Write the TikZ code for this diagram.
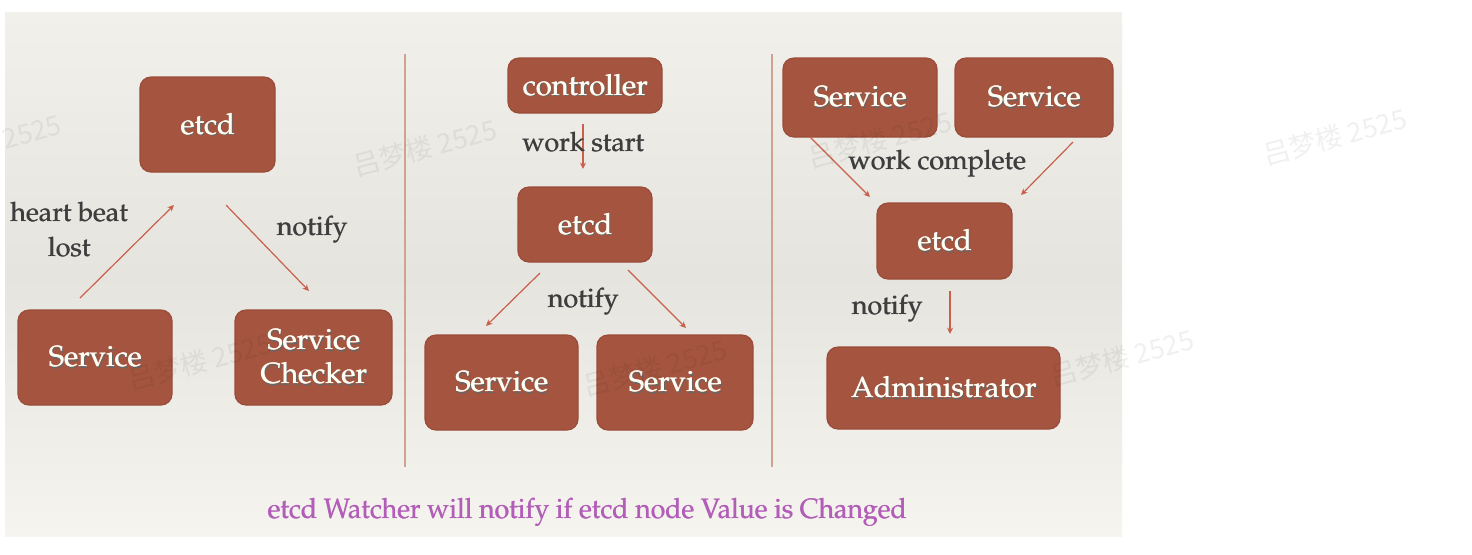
\documentclass[tikz,border=0pt]{standalone}
\usepackage{fontspec}
\usetikzlibrary{arrows.meta}
\newfontfamily\cjk{Noto Sans CJK SC}
\newcommand\pala{\fontencoding{OT1}\fontfamily{ppl}\selectfont}
\newcommand\shd[1]{\leavevmode\rlap{\kern0.8pt\raisebox{-0.8pt}{\textcolor{black!60}{#1}}}\rlap{\kern0.3pt #1}#1}
\newcommand\thk[1]{\leavevmode\rlap{\kern0.3pt #1}#1}
\definecolor{boxfill}{HTML}{A5553F}
\definecolor{boxedge}{HTML}{9A4C38}
\definecolor{arrowc}{HTML}{C9604C}
\definecolor{divc}{HTML}{CFA293}
\definecolor{labelc}{HTML}{3E3E3E}
\definecolor{notec}{HTML}{B25EB8}
\definecolor{bgtop}{HTML}{F2F0EB}
\definecolor{bgmid}{HTML}{E6E4DF}
\definecolor{bgbot}{HTML}{F6F4EF}
\tikzset{
  box/.style={draw=boxedge, line width=0.6pt, fill=boxfill, rounded corners=5.5pt,
    text=white!96!yellow, font=\pala\fontsize{14.6}{18}\selectfont, align=center,
    inner sep=0pt},
  lbl/.style={text=labelc, font=\pala\fontsize{13.4}{17.5}\selectfont, align=center, inner sep=0pt},
  arr/.style={draw=arrowc, line width=0.6pt, -{Stealth[length=3.2pt,width=3pt]}},
  divider/.style={draw=divc, line width=0.8pt},
  wm/.style={text=black, opacity=0.06, font=\cjk\fontsize{13.5}{16}\selectfont, rotate=15, inner sep=0pt},
}
\begin{document}
\begin{tikzpicture}[x=0.5pt,y=-0.5pt]
\useasboundingbox (0,0) rectangle (1472,554);
\fill[white] (0,0) rectangle (1472,554);
\shade[top color=bgtop, bottom color=bgbot, middle color=bgmid] (5,12) rectangle (1122,536);

% dividers
\coordinate (d1t) at (405,54); \coordinate (d1b) at (405,467);
\coordinate (d2t) at (772,54); \coordinate (d2b) at (772,467);
\draw[divider] (d1t) -- (d1b);
\draw[divider] (d2t) -- (d2b);

% panel 1
\node[box, minimum width=67.5pt, minimum height=47.5pt] (e1) at (207.5,124.5) {\shd{etcd}};
\node[box, minimum width=77pt, minimum height=47.5pt] (s1) at (95,357.5) {\shd{Service}};
\node[box, minimum width=78.5pt, minimum height=47.5pt] (sc) at (313.5,357.5) {\shd{Service}\\[-1pt]\shd{Checker}};
\coordinate (hbs) at (80,298); \coordinate (hbe) at (174,205);
\coordinate (n1s) at (226,205); \coordinate (n1e) at (309,291);
\draw[arr] (hbs) -- (hbe);
\draw[arr] (n1s) -- (n1e);
\node[lbl] (hbl) at (69,229) {\thk{heart beat}\\\thk{lost}};
\node[lbl] (n1l) at (312,230) {\thk{notify}};

% panel 2
\node[box, minimum width=77pt, minimum height=27.5pt] (ctl) at (585,85.5) {\shd{controller}};
\node[box, minimum width=67pt, minimum height=37.5pt] (e2) at (585,224.5) {\shd{etcd}};
\node[box, minimum width=76.5pt, minimum height=47.5pt] (s2) at (501.5,382.5) {\shd{Service}};
\node[box, minimum width=78pt, minimum height=47.5pt] (s3) at (675,382.5) {\shd{Service}};
\coordinate (wss) at (583,124); \coordinate (wse) at (583,169);
\coordinate (n2ls) at (540,273); \coordinate (n2le) at (486,326);
\coordinate (n2rs) at (628,270); \coordinate (n2re) at (686,328);
\draw[arr] (wss) -- (wse);
\draw[arr] (n2ls) -- (n2le);
\draw[arr] (n2rs) -- (n2re);
\node[lbl] (wsl) at (583,142) {\thk{work start}};
\node[lbl] (n2l) at (583,302) {\thk{notify}};

% panel 3
\node[box, minimum width=77pt, minimum height=39.5pt] (s4) at (860,97.5) {\shd{Service}};
\node[box, minimum width=79pt, minimum height=39.5pt] (s5) at (1034,97.5) {\shd{Service}};
\node[box, minimum width=67.5pt, minimum height=38pt] (e3) at (944.5,241) {\shd{etcd}};
\node[box, minimum width=116.5pt, minimum height=41pt] (adm) at (943.5,388) {\shd{Administrator}};
\coordinate (wcls) at (810,137); \coordinate (wcle) at (870,197);
\coordinate (wcrs) at (1073,142); \coordinate (wcre) at (1021,195);
\coordinate (n3s) at (950,291); \coordinate (n3e) at (950,334);
\draw[arr] (wcls) -- (wcle);
\draw[arr] (wcrs) -- (wcre);
\draw[arr] (n3s) -- (n3e);
\node[lbl] (wcl) at (937,164) {\thk{work complete}};
\node[lbl] (n3l) at (887,309) {\thk{notify}};

% caption
\node[text=notec, inner sep=0pt, font=\pala\fontsize{14}{17}\selectfont] (cap) at (587,512)
  {\scalebox{0.95}[1]{\thk{etcd Watcher will notify if etcd node Value is Changed}}};

% watermarks
\node[wm] (wm1) at (32,132) {2525};
\foreach \wx/\wy [count=\i from 2] in {425/148, 880/140, 1335/137, 200/362, 655/368, 1122/358}
  \node[wm] (wm\i) at (\wx,\wy) {吕梦楼 2525};
\end{tikzpicture}
\end{document}
